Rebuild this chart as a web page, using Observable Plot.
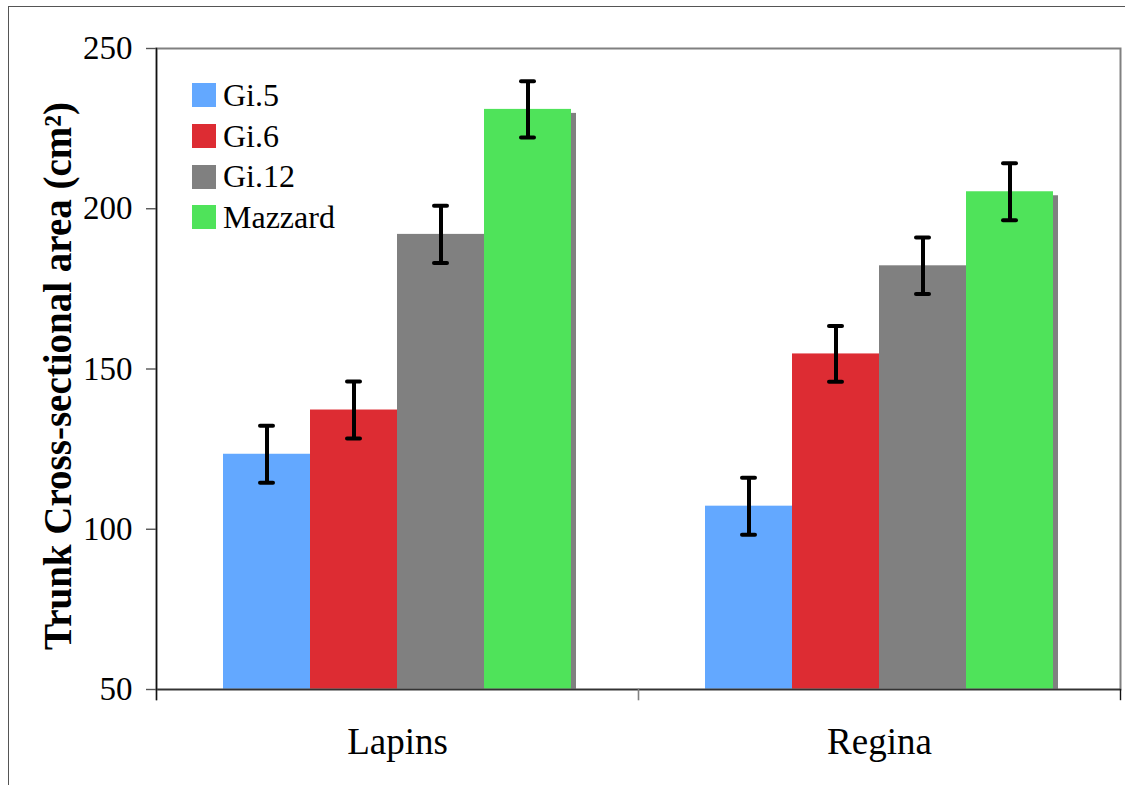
<!DOCTYPE html>
<html>
<head>
<meta charset="utf-8">
<script src="https://cdn.jsdelivr.net/npm/d3@7"></script>
<script src="https://cdn.jsdelivr.net/npm/@observablehq/plot@0.6"></script>
<style>
  html, body { margin: 0; padding: 0; background: #fff; overflow: hidden; }
  #wrap { position: relative; width: 1125px; height: 785px; }
  #outer { position: absolute; left: 8px; top: 6px; width: 1300px; height: 1000px; border: 1.5px solid #555; box-sizing: border-box; pointer-events: none; }
  #chart { position: absolute; left: 0; top: 0; }
  #chart svg, #chart svg text { font-family: "Liberation Serif", "DejaVu Serif", serif; }
  #legend { position: absolute; left: 192px; top: 75px; font-family: "Liberation Serif", "DejaVu Serif", serif; font-size: 32px; color: #000; }
  .row { display: flex; align-items: center; height: 40.7px; }
  .sw { width: 24px; height: 24px; margin-right: 7px; }
</style>
</head>
<body>
<div id="wrap">
  <div id="chart"></div>
  <div id="outer"></div>
  <div id="legend"></div>
</div>
<script>
const groups = ["Lapins", "Regina"];
const series = ["Gi.5", "Gi.6", "Gi.12", "Mazzard"];
const lapinsValues = [123.4, 137.2, 192.0, 231.0];
const reginaValues = [107.2, 154.7, 182.2, 205.3];
const lapinsErrors = [8.9, 8.9, 8.9, 8.8];
const reginaErrors = [8.9, 8.7, 8.8, 8.9];
const colors = ["#63A8FF", "#DD2C33", "#808080", "#4FE35A"];
const yTicks = [50, 100, 150, 200, 250];
const yTitle = "Trunk Cross-sectional area (cm²)";

const rows = [];
series.forEach((s, i) => {
  rows.push({group: groups[0], series: s, value: lapinsValues[i], err: lapinsErrors[i]});
  rows.push({group: groups[1], series: s, value: reginaValues[i], err: reginaErrors[i]});
});
rows.forEach(r => { r.lo = r.value - r.err; r.hi = r.value + r.err; });

const serif = "'Liberation Serif', 'DejaVu Serif', serif";

const plot = Plot.plot({
  width: 1125,
  height: 785,
  marginLeft: 155,
  marginRight: 5,
  marginTop: 48,
  marginBottom: 96,
  style: {fontFamily: serif, color: "#000", background: "transparent"},
  fx: {domain: groups, padding: 0, axis: null, label: null},
  x: {domain: series, paddingInner: 0, paddingOuter: 0.741, axis: null},
  y: {domain: [50, 250], axis: null},
  color: {domain: series, range: colors},
  marks: [
    Plot.barY(rows, {fx: "group", x: "series", y: "value", fill: "#808080", dx: 5, dy: 4, clip: true}),
    Plot.barY(rows, {fx: "group", x: "series", y: "value", fill: "series", clip: true}),
    Plot.frame({facet: "super", stroke: "#808080", strokeWidth: 2}),
    Plot.ruleY([50], {stroke: "#333", strokeWidth: 1.6}),
    Plot.frame({anchor: "left", insetTop: 641, insetBottom: -10, stroke: "#808080", strokeWidth: 1.6}),
    Plot.frame({facet: "super", anchor: "left", insetBottom: -10, stroke: "#111", strokeWidth: 1.4}),
    Plot.frame({facet: "super", anchor: "right", insetTop: 641, insetBottom: -10, stroke: "#111", strokeWidth: 1.4}),
    Plot.ruleX(rows, {fx: "group", x: "series", y1: "lo", y2: "hi", stroke: "#000", strokeWidth: 4}),
    Plot.tickY(rows, {fx: "group", x: "series", y: "hi", insetLeft: 37, insetRight: 37, stroke: "#000", strokeWidth: 4, strokeLinecap: "round"}),
    Plot.tickY(rows, {fx: "group", x: "series", y: "lo", insetLeft: 37, insetRight: 37, stroke: "#000", strokeWidth: 4, strokeLinecap: "round"}),
    Plot.axisY({ticks: yTicks, tickSize: 10, tickPadding: 14, fontSize: 33, label: null, stroke: "#555", strokeWidth: 1.4}),
    Plot.axisFx({anchor: "bottom", tickSize: 0, tickPadding: 38, fontSize: 37, label: null}),
    Plot.text([yTitle], {facet: "super", frameAnchor: "left", textAnchor: "middle", rotate: -90, dx: -98, dy: 7, fontSize: 39, fontWeight: "bold", fill: "#000"})
  ]
});
document.getElementById("chart").appendChild(plot);

const legend = document.getElementById("legend");
series.forEach((s, i) => {
  const row = document.createElement("div");
  row.className = "row";
  const sw = document.createElement("div");
  sw.className = "sw";
  sw.style.background = colors[i];
  const label = document.createElement("span");
  label.textContent = s;
  row.appendChild(sw);
  row.appendChild(label);
  legend.appendChild(row);
});
</script>
</body>
</html>
